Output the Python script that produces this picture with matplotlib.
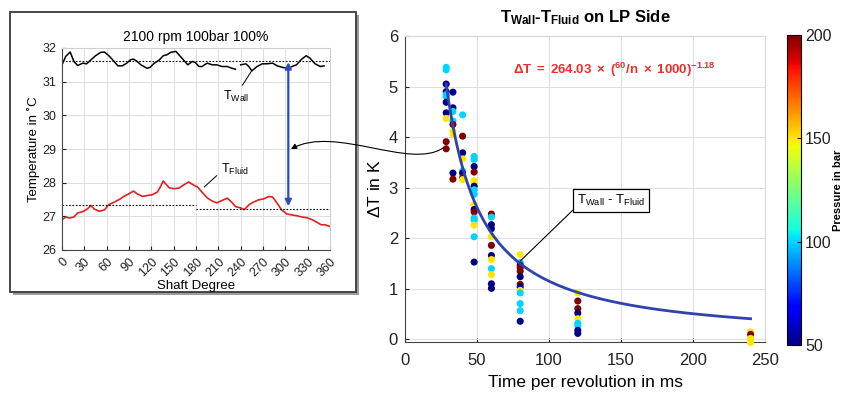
import matplotlib.pyplot as plt
import numpy as np
from matplotlib.patches import Rectangle, FancyArrowPatch
from matplotlib.path import Path

plt.rcParams['font.family'] = ['Liberation Sans', 'DejaVu Sans']
plt.rcParams['mathtext.fontset'] = 'custom'
plt.rcParams['mathtext.rm'] = 'Liberation Sans'
plt.rcParams['mathtext.it'] = 'Liberation Sans:italic'
plt.rcParams['mathtext.bf'] = 'Liberation Sans:bold'

# ---- left panel: temperatures over one shaft revolution (2100 rpm, 100 bar)
wall_deg = [0, 5, 11, 16, 21, 28, 33, 39, 45, 52, 57, 63, 70, 75, 81, 87, 92, 96,
            101, 106, 114, 118, 124, 130, 136, 141, 146, 153, 157, 163, 169, 175,
            179, 184, 188, 195, 202, 208, 215, 222, 228, 233, 237,
            240, 247, 251, 255, 262, 269, 275, 283, 289, 297, 303, 309, 315, 322,
            328, 333, 340, 347, 352]
wall_temp = [31.50, 31.75, 31.88, 31.60, 31.48, 31.55, 31.53, 31.65, 31.77, 31.87,
             31.88, 31.77, 31.60, 31.47, 31.47, 31.55, 31.65, 31.67, 31.60, 31.50,
             31.40, 31.42, 31.55, 31.63, 31.77, 31.80, 31.87, 31.90, 31.80, 31.65,
             31.50, 31.60, 31.57, 31.45, 31.45, 31.55, 31.50, 31.50, 31.45, 31.45,
             31.40, 31.37, np.nan,
             31.50, 31.53, 31.45, 31.32, 31.45, 31.53, 31.53, 31.55, 31.47, 31.42,
             31.40, 31.45, 31.50, 31.67, 31.77, 31.70, 31.53, 31.45, 31.47]
fluid_deg = [0, 5, 10, 16, 21, 28, 34, 39, 43, 50, 57, 63, 70, 77, 83, 90, 96, 101,
             108, 115, 121, 128, 132, 136, 139, 144, 150, 157, 164, 170, 175, 182,
             188, 195, 202, 208, 215, 222, 228, 233, 240, 245, 251, 257, 264, 271,
             278, 283, 289, 295, 302, 309, 315, 322, 329, 336, 342, 348, 353, 360]
fluid_temp = [26.90, 26.98, 26.95, 26.98, 27.10, 27.14, 27.22, 27.32, 27.22, 27.15,
              27.19, 27.35, 27.42, 27.50, 27.59, 27.67, 27.75, 27.67, 27.59, 27.62,
              27.64, 27.72, 27.87, 28.05, 27.97, 27.85, 27.82, 27.84, 27.94, 28.02,
              27.95, 27.87, 27.72, 27.55, 27.45, 27.40, 27.47, 27.54, 27.42, 27.29,
              27.25, 27.20, 27.34, 27.42, 27.49, 27.52, 27.59, 27.57, 27.39, 27.19,
              27.07, 27.04, 27.02, 26.98, 26.96, 26.90, 26.83, 26.75, 26.75, 26.70]
wall_mean = 31.62
fluid_mean_first = 27.33
fluid_mean_second = 27.22

# ---- right panel: measured wall-fluid difference vs time per revolution
time_ms = ([28.6] * 11 + [33.3] * 9 + [40] * 8 + [48] * 17 + [60] * 12
           + [80] * 13 + [120] * 9 + [240] * 4)
delta_t = [5.38, 5.33, 5.05, 4.90, 4.84, 4.80, 4.69, 4.48, 4.37, 3.91, 3.77,
           4.89, 4.58, 4.51, 4.32, 4.25, 4.12, 4.05, 3.29, 3.17,
           4.44, 4.02, 3.69, 3.57, 3.33, 3.29, 3.20, 3.16,
           3.62, 3.56, 3.42, 3.31, 3.14, 3.08, 3.03, 2.96, 2.87, 2.67, 2.57, 2.52,
           2.40, 2.36, 2.26, 2.03, 1.53,
           2.48, 2.42, 2.27, 2.19, 2.03, 1.86, 1.66, 1.58, 1.40, 1.28, 1.10, 1.01,
           1.68, 1.52, 1.47, 1.42, 1.35, 1.24, 1.09, 1.04, 0.97, 0.92, 0.71, 0.57,
           0.36,
           0.92, 0.76, 0.61, 0.52, 0.41, 0.32, 0.27, 0.18, 0.12,
           0.15, 0.10, 0.02, -0.06]
pressure = [100, 100, 50, 50, 100, 100, 50, 50, 150, 200, 200,
            50, 50, 100, 100, 200, 150, 150, 50, 200,
            100, 200, 50, 150, 100, 50, 200, 150,
            100, 100, 50, 200, 150, 150, 50, 100, 100, 150, 50, 200,
            100, 100, 150, 100, 50,
            200, 100, 50, 50, 150, 200, 50, 150, 100, 150, 50, 50,
            150, 100, 50, 200, 200, 50, 200, 50, 150, 100, 100, 100,
            50,
            150, 200, 200, 50, 150, 100, 100, 50, 50,
            150, 200, 150, 150]
fit_coef = 264.03
fit_exp = -1.18

W, H = 848, 394


def fpx(x, y):
    # figure pixel -> figure fraction
    return (x / W, 1 - y / H)


fig = plt.figure(figsize=(W / 100, H / 100), dpi=100)

# framed box with shadow around the left panel
fig.add_artist(Rectangle(fpx(13, 295), 346 / W, 280 / H, transform=fig.transFigure,
                         fc='#9c9c9c', ec='none', zorder=-3))
fig.add_artist(Rectangle(fpx(10, 292), 346 / W, 280 / H, transform=fig.transFigure,
                         fc='white', ec='#3a3a3a', lw=1.3, zorder=-2))

grid_kw = dict(color='#dedede', lw=0.7)

# ---------------- left panel
ax1 = fig.add_axes([62 / W, 1 - 250 / H, 268 / W, 202 / H])
ax1.plot(wall_deg, wall_temp, color='black', lw=1.1)
ax1.plot(fluid_deg, fluid_temp, color='#e02020', lw=1.2)
ax1.hlines(wall_mean, 0, 360, colors='black', linestyles=(0, (1.5, 1.5)), lw=0.8)
ax1.hlines(fluid_mean_first, 0, 180, colors='black', linestyles=(0, (1.5, 1.5)), lw=0.8)
ax1.hlines(fluid_mean_second, 180, 360, colors='black', linestyles=(0, (1.5, 1.5)), lw=0.8)
ax1.set_xlim(0, 360)
ax1.set_ylim(26, 32)
ax1.set_xticks(range(0, 361, 30))
ax1.set_yticks(range(26, 33))
ax1.set_xticklabels([str(v) for v in range(0, 361, 30)], rotation=45,
                    ha='right', va='top', rotation_mode='anchor')
ax1.tick_params(direction='in', length=3, labelsize=9, colors='#222222', pad=4)
ax1.grid(True, **grid_kw)
for s in ['top', 'right']:
    ax1.spines[s].set_color('#d0d0d0')
for s in ['left', 'bottom']:
    ax1.spines[s].set_color('#444444')
ax1.set_title('2100 rpm 100bar 100%', fontsize=10, pad=5)
ax1.set_xlabel('Shaft Degree', fontsize=9.5, labelpad=1)
ax1.set_ylabel('Temperature in ˚C', fontsize=9.5, labelpad=2)
ax1.annotate(r'T$_{\mathrm{Wall}}$', xy=(255, 31.33), xytext=(216, 30.45),
             fontsize=9, arrowprops=dict(arrowstyle='-', color='black', lw=0.7,
                                         relpos=(0.65, 1.0), shrinkA=1, shrinkB=0))
ax1.annotate(r'T$_{\mathrm{Fluid}}$', xy=(191, 27.87), xytext=(213, 28.3),
             fontsize=9, arrowprops=dict(arrowstyle='-', color='black', lw=0.7,
                                         relpos=(0.0, 0.3), shrinkA=1, shrinkB=0))
ax1.annotate('', xy=(304, wall_mean - 0.04), xytext=(304, fluid_mean_second + 0.08),
             arrowprops=dict(arrowstyle='<|-|>', color='#2b4cb6', lw=1.6,
                             mutation_scale=9, shrinkA=0, shrinkB=0))

# ---------------- right panel
ax2 = fig.add_axes([405 / W, 1 - 342 / H, 360 / W, 306 / H])
ax2.grid(True, **grid_kw)
ax2.set_axisbelow(True)
sc = ax2.scatter(time_ms, delta_t, c=pressure, cmap='jet', vmin=50, vmax=200,
                 s=26, edgecolors='none', zorder=3, clip_on=False)
t_fit = np.linspace(28.57, 240, 300)
ax2.plot(t_fit, fit_coef * t_fit ** fit_exp, color='#3141ad', lw=2, zorder=4)
ax2.set_xlim(0, 250)
ax2.set_ylim(-0.05, 6)
ax2.set_xticks(range(0, 251, 50))
ax2.set_yticks(range(0, 7))
ax2.tick_params(direction='in', length=3, labelsize=12, colors='#222222')
ax2.tick_params(axis='x', pad=8)
ax2.tick_params(axis='y', pad=5)
for s in ['top', 'right']:
    ax2.spines[s].set_color('#d8d8d8')
for s in ['left', 'bottom']:
    ax2.spines[s].set_color('#444444')
ax2.set_title(r'$\mathbf{T_{Wall}}$-$\mathbf{T_{Fluid}}$ on LP Side',
              fontsize=12, fontweight='bold', pad=10)
ax2.set_xlabel('Time per revolution in ms', fontsize=12.5, labelpad=5)
ax2.set_ylabel(r'$\Delta$T in K', fontsize=12.5, labelpad=4)
ax2.text(75, 5.33, r'$\mathbf{\Delta T\ =\ 264.03\ \times\ (^{60}/n\ \times\ 1000)^{-1.18}}$',
         color='#e8302c', fontsize=9.5, va='center')
ax2.annotate(r'T$_{\mathrm{Wall}}$ - T$_{\mathrm{Fluid}}$', xy=(80, 1.55),
             xytext=(143, 2.75), fontsize=9.5, ha='center', va='center',
             bbox=dict(boxstyle='square,pad=0.3', fc='white', ec='black', lw=0.9),
             arrowprops=dict(arrowstyle='-', color='black', lw=0.8,
                             relpos=(0.02, 0.2), shrinkA=0, shrinkB=0))

# colorbar
cax = fig.add_axes([787 / W, 1 - 345 / H, 14 / W, 310 / H])
cb = fig.colorbar(sc, cax=cax)
cb.set_ticks([50, 100, 150, 200])
cax.tick_params(direction='in', length=3, labelsize=11.5, colors='#222222', pad=3)
cb.outline.set_linewidth(0.8)
cb.set_label('Pressure in bar', fontsize=8, fontweight='bold', labelpad=1)

# curved link from the right-panel data to the left-panel difference arrow
verts = [fpx(443, 148), fpx(410, 170), fpx(335, 125), fpx(291, 149)]
link = Path(verts, [Path.MOVETO, Path.CURVE4, Path.CURVE4, Path.CURVE4])
fig.add_artist(FancyArrowPatch(path=link, arrowstyle='-|>', mutation_scale=8,
                               lw=0.8, color='black', transform=fig.transFigure,
                               zorder=6))

fig.savefig('out.png', dpi=100)
